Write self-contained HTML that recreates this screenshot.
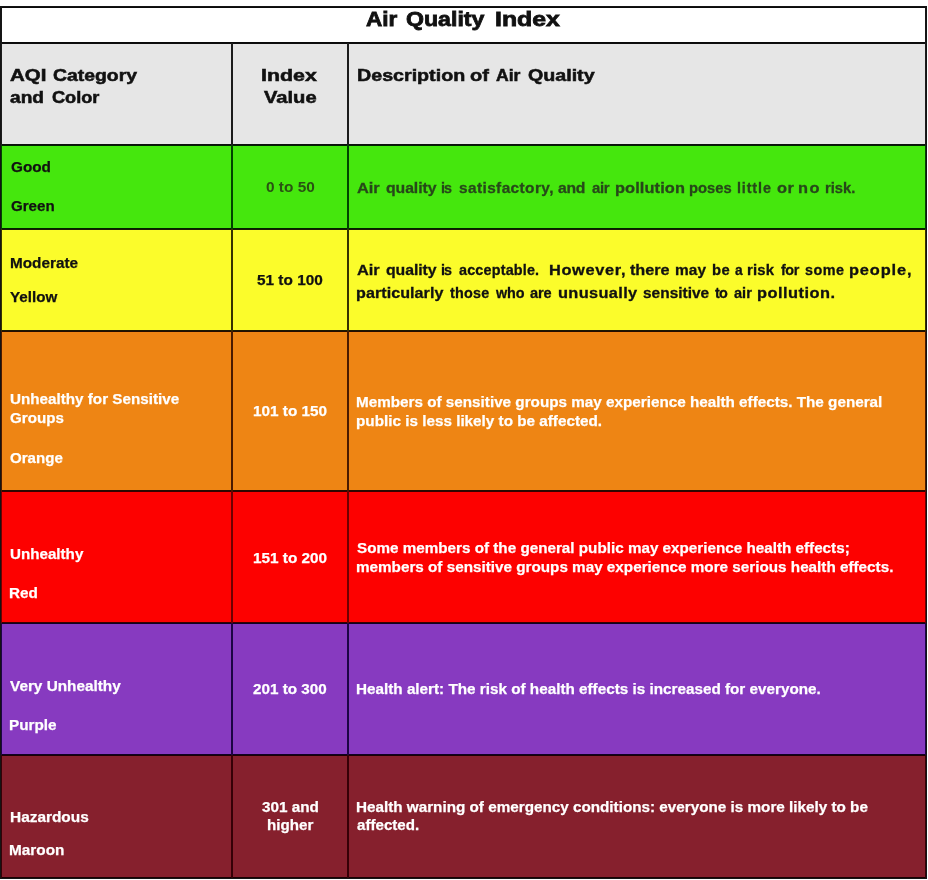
<!DOCTYPE html>
<html lang="en">
<head>
<meta charset="utf-8">
<title>Air Quality Index</title>
<style>
  html, body { margin: 0; padding: 0; background: #ffffff; }
  body { width: 928px; height: 880px; overflow: hidden; position: relative;
         font-family: "Liberation Sans", sans-serif; }
  #grid { position: absolute; left: 0; top: 6px; width: 927px; height: 873px; background: #141414; }
  .cell { position: absolute; overflow: hidden; will-change: transform; }
  .cell .t { position: absolute; white-space: nowrap; font-weight: bold; line-height: 1; transform-origin: 0 0; }
  #title { left:2px; top:8px; width:923px; height:34px; background:#ffffff; box-shadow: 0 1px 0 0 #0b0b0b, 0 -1px 0 0 #0b0b0b, 0 0 0 1px #161616; }
  #c1r0 { left:2px; top:44px; width:229px; height:100px; background:#e6e6e6; box-shadow: 0 1px 0 0 #0e0e0e, 0 -1px 0 0 #0e0e0e, 0 0 0 1px #1c1c1c; }
  #c2r0 { left:233px; top:44px; width:114px; height:100px; background:#e6e6e6; box-shadow: 0 1px 0 0 #0e0e0e, 0 -1px 0 0 #0e0e0e, 0 0 0 1px #1c1c1c; }
  #c3r0 { left:349px; top:44px; width:576px; height:100px; background:#e6e6e6; box-shadow: 0 1px 0 0 #0e0e0e, 0 -1px 0 0 #0e0e0e, 0 0 0 1px #1c1c1c; }
  #c1r1 { left:2px; top:146px; width:229px; height:82px; background:#45e70d; box-shadow: 0 1px 0 0 #002200, 0 -1px 0 0 #002200, 0 0 0 1px #004400; }
  #c2r1 { left:233px; top:146px; width:114px; height:82px; background:#45e70d; box-shadow: 0 1px 0 0 #002200, 0 -1px 0 0 #002200, 0 0 0 1px #004400; }
  #c3r1 { left:349px; top:146px; width:576px; height:82px; background:#45e70d; box-shadow: 0 1px 0 0 #002200, 0 -1px 0 0 #002200, 0 0 0 1px #004400; }
  #c1r2 { left:2px; top:230px; width:229px; height:100px; background:#fbfc2b; box-shadow: 0 1px 0 0 #1b1900, 0 -1px 0 0 #1b1900, 0 0 0 1px #363200; }
  #c2r2 { left:233px; top:230px; width:114px; height:100px; background:#fbfc2b; box-shadow: 0 1px 0 0 #1b1900, 0 -1px 0 0 #1b1900, 0 0 0 1px #363200; }
  #c3r2 { left:349px; top:230px; width:576px; height:100px; background:#fbfc2b; box-shadow: 0 1px 0 0 #1b1900, 0 -1px 0 0 #1b1900, 0 0 0 1px #363200; }
  #c1r3 { left:2px; top:332px; width:229px; height:158px; background:#ee8514; box-shadow: 0 1px 0 0 #250d00, 0 -1px 0 0 #250d00, 0 0 0 1px #4a1a00; }
  #c2r3 { left:233px; top:332px; width:114px; height:158px; background:#ee8514; box-shadow: 0 1px 0 0 #250d00, 0 -1px 0 0 #250d00, 0 0 0 1px #4a1a00; }
  #c3r3 { left:349px; top:332px; width:576px; height:158px; background:#ee8514; box-shadow: 0 1px 0 0 #250d00, 0 -1px 0 0 #250d00, 0 0 0 1px #4a1a00; }
  #c1r4 { left:2px; top:492px; width:229px; height:130px; background:#fd0100; box-shadow: 0 1px 0 0 #370000, 0 -1px 0 0 #370000, 0 0 0 1px #6e0000; }
  #c2r4 { left:233px; top:492px; width:114px; height:130px; background:#fd0100; box-shadow: 0 1px 0 0 #370000, 0 -1px 0 0 #370000, 0 0 0 1px #6e0000; }
  #c3r4 { left:349px; top:492px; width:576px; height:130px; background:#fd0100; box-shadow: 0 1px 0 0 #370000, 0 -1px 0 0 #370000, 0 0 0 1px #6e0000; }
  #c1r5 { left:2px; top:624px; width:229px; height:130px; background:#873ac0; box-shadow: 0 1px 0 0 #0e0222, 0 -1px 0 0 #0e0222, 0 0 0 1px #1c0545; }
  #c2r5 { left:233px; top:624px; width:114px; height:130px; background:#873ac0; box-shadow: 0 1px 0 0 #0e0222, 0 -1px 0 0 #0e0222, 0 0 0 1px #1c0545; }
  #c3r5 { left:349px; top:624px; width:576px; height:130px; background:#873ac0; box-shadow: 0 1px 0 0 #0e0222, 0 -1px 0 0 #0e0222, 0 0 0 1px #1c0545; }
  #c1r6 { left:2px; top:756px; width:229px; height:121px; background:#86202d; box-shadow: 0 1px 0 0 #1b0003, 0 -1px 0 0 #1b0003, 0 0 0 1px #360006; }
  #c2r6 { left:233px; top:756px; width:114px; height:121px; background:#86202d; box-shadow: 0 1px 0 0 #1b0003, 0 -1px 0 0 #1b0003, 0 0 0 1px #360006; }
  #c3r6 { left:349px; top:756px; width:576px; height:121px; background:#86202d; box-shadow: 0 1px 0 0 #1b0003, 0 -1px 0 0 #1b0003, 0 0 0 1px #360006; }
</style>
</head>
<body>
<div id="grid"></div>
  <div class="cell" id="title">
    <span class="t" id="t1" style="font-size:20.6px;color:#111111;left:363.75px;top:1px;transform:scaleX(1.0951);-webkit-text-stroke:0.8px #111111;">Air</span>
    <span class="t" id="t2" style="font-size:20.6px;color:#111111;left:403.86px;top:1px;transform:scaleX(1.1228);-webkit-text-stroke:0.8px #111111;">Quality</span>
    <span class="t" id="t3" style="font-size:20.6px;color:#111111;left:492.98px;top:1px;transform:scaleX(1.2047);-webkit-text-stroke:0.8px #111111;">Index</span>
  </div>
  <div class="cell" id="c1r0">
    <span class="t" id="h1a1" style="font-size:17.0px;color:#111111;left:7.93px;top:23px;transform:scaleX(1.2031);-webkit-text-stroke:0.55px #111111;">AQI</span>
    <span class="t" id="h1a2" style="font-size:17.0px;color:#111111;left:50.63px;top:23px;transform:scaleX(1.1402);-webkit-text-stroke:0.55px #111111;">Category</span>
    <span class="t" id="h1b1" style="font-size:17.0px;color:#111111;left:8.00px;top:45px;transform:scaleX(1.1244);-webkit-text-stroke:0.55px #111111;">and</span>
    <span class="t" id="h1b2" style="font-size:17.0px;color:#111111;left:49.91px;top:45px;transform:scaleX(1.0684);-webkit-text-stroke:0.55px #111111;">Color</span>
  </div>
  <div class="cell" id="c2r0">
    <span class="t" id="h2a" style="font-size:17.0px;color:#111111;left:28.19px;top:23px;transform:scaleX(1.2556);-webkit-text-stroke:0.55px #111111;">Index</span>
    <span class="t" id="h2b" style="font-size:17.0px;color:#111111;left:30.99px;top:45px;transform:scaleX(1.1847);-webkit-text-stroke:0.55px #111111;">Value</span>
  </div>
  <div class="cell" id="c3r0">
    <span class="t" id="h3a" style="font-size:17.0px;color:#111111;left:8.28px;top:23px;transform:scaleX(1.1565);-webkit-text-stroke:0.55px #111111;">Description</span>
    <span class="t" id="h3b" style="font-size:17.0px;color:#111111;left:121.25px;top:23px;transform:scaleX(1.1754);-webkit-text-stroke:0.55px #111111;">of</span>
    <span class="t" id="h3c" style="font-size:17.0px;color:#111111;left:146.51px;top:23px;transform:scaleX(1.0366);-webkit-text-stroke:0.55px #111111;">Air</span>
    <span class="t" id="h3d" style="font-size:17.0px;color:#111111;left:179.26px;top:23px;transform:scaleX(1.1556);-webkit-text-stroke:0.55px #111111;">Quality</span>
  </div>
  <div class="cell" id="c1r1">
    <span class="t" id="g1a" style="font-size:15.5px;color:#111111;left:8.57px;top:13px;transform:scaleX(0.9881);-webkit-text-stroke:0.25px #111111;">Good</span>
    <span class="t" id="g1b" style="font-size:15.5px;color:#111111;left:8.58px;top:52px;transform:scaleX(0.9742);-webkit-text-stroke:0.25px #111111;">Green</span>
  </div>
  <div class="cell" id="c2r1">
    <span class="t" id="g2" style="font-size:15.5px;color:#2a5213;left:32.96px;top:33px;transform:scaleX(0.9936);">0 to 50</span>
  </div>
  <div class="cell" id="c3r1">
    <span class="t" id="g3w0" style="font-size:15.3px;color:#27481a;left:8.47px;top:34px;transform:scaleX(1.0700);-webkit-text-stroke:0.3px #27481a;">Air</span>
    <span class="t" id="g3w1" style="font-size:15.3px;color:#27481a;left:37.08px;top:34px;transform:scaleX(1.0328);letter-spacing:-0.08px;-webkit-text-stroke:0.3px #27481a;">quality</span>
    <span class="t" id="g3w2" style="font-size:15.3px;color:#27481a;left:92.40px;top:34px;transform:scaleX(0.9400);letter-spacing:-1.10px;-webkit-text-stroke:0.3px #27481a;">is</span>
    <span class="t" id="g3w3" style="font-size:15.3px;color:#27481a;left:109.65px;top:34px;transform:scaleX(1.0080);letter-spacing:0.39px;-webkit-text-stroke:0.3px #27481a;">satisfactory,</span>
    <span class="t" id="g3w4" style="font-size:15.3px;color:#27481a;left:209.19px;top:34px;transform:scaleX(1.0285);letter-spacing:-0.26px;-webkit-text-stroke:0.3px #27481a;">and</span>
    <span class="t" id="g3w5" style="font-size:15.3px;color:#27481a;left:242.86px;top:34px;transform:scaleX(0.9778);letter-spacing:-0.43px;-webkit-text-stroke:0.3px #27481a;">air</span>
    <span class="t" id="g3w6" style="font-size:15.3px;color:#27481a;left:265.62px;top:34px;transform:scaleX(1.0700);letter-spacing:0.10px;-webkit-text-stroke:0.3px #27481a;">pollution</span>
    <span class="t" id="g3w7" style="font-size:15.3px;color:#27481a;left:340.40px;top:34px;transform:scaleX(0.9661);letter-spacing:-0.01px;-webkit-text-stroke:0.3px #27481a;">poses</span>
    <span class="t" id="g3w8" style="font-size:15.3px;color:#27481a;left:387.88px;top:34px;transform:scaleX(0.9400);letter-spacing:0.92px;-webkit-text-stroke:0.3px #27481a;">little</span>
    <span class="t" id="g3w9" style="font-size:15.3px;color:#27481a;left:427.64px;top:34px;transform:scaleX(1.0700);letter-spacing:0.56px;-webkit-text-stroke:0.3px #27481a;">or</span>
    <span class="t" id="g3w10" style="font-size:15.3px;color:#27481a;left:449.33px;top:34px;transform:scaleX(1.0700);letter-spacing:1.32px;-webkit-text-stroke:0.3px #27481a;">no</span>
    <span class="t" id="g3w11" style="font-size:15.3px;color:#27481a;left:476.09px;top:34px;transform:scaleX(0.9640);letter-spacing:-0.02px;-webkit-text-stroke:0.3px #27481a;">risk.</span>
  </div>
  <div class="cell" id="c1r2">
    <span class="t" id="y1a" style="font-size:15.5px;color:#111111;left:7.65px;top:25px;transform:scaleX(0.9876);-webkit-text-stroke:0.25px #111111;">Moderate</span>
    <span class="t" id="y1b" style="font-size:15.5px;color:#111111;left:8.31px;top:59px;transform:scaleX(0.9793);-webkit-text-stroke:0.25px #111111;">Yellow</span>
  </div>
  <div class="cell" id="c2r2">
    <span class="t" id="y2" style="font-size:15.5px;color:#111111;left:23.86px;top:42px;transform:scaleX(0.9915);-webkit-text-stroke:0.25px #111111;">51 to 100</span>
  </div>
  <div class="cell" id="c3r2">
    <span class="t" id="y3aw0" style="font-size:15.3px;color:#111111;left:8.43px;top:32px;transform:scaleX(1.0700);-webkit-text-stroke:0.3px #111111;">Air</span>
    <span class="t" id="y3aw1" style="font-size:15.3px;color:#111111;left:37.02px;top:32px;transform:scaleX(1.0330);letter-spacing:-0.06px;-webkit-text-stroke:0.3px #111111;">quality</span>
    <span class="t" id="y3aw2" style="font-size:15.3px;color:#111111;left:92.40px;top:32px;transform:scaleX(0.9400);letter-spacing:-1.03px;-webkit-text-stroke:0.3px #111111;">is</span>
    <span class="t" id="y3aw3" style="font-size:15.3px;color:#111111;left:109.84px;top:32px;transform:scaleX(0.9400);letter-spacing:0.19px;-webkit-text-stroke:0.3px #111111;">acceptable.</span>
    <span class="t" id="y3aw4" style="font-size:15.3px;color:#111111;left:199.63px;top:32px;transform:scaleX(1.0700);letter-spacing:0.61px;-webkit-text-stroke:0.3px #111111;">However,</span>
    <span class="t" id="y3aw5" style="font-size:15.3px;color:#111111;left:281.29px;top:32px;transform:scaleX(1.0621);letter-spacing:-0.05px;-webkit-text-stroke:0.3px #111111;">there</span>
    <span class="t" id="y3aw6" style="font-size:15.3px;color:#111111;left:325.99px;top:32px;transform:scaleX(1.0080);letter-spacing:0.08px;-webkit-text-stroke:0.3px #111111;">may</span>
    <span class="t" id="y3aw7" style="font-size:15.3px;color:#111111;left:362.69px;top:32px;transform:scaleX(0.9652);letter-spacing:0.54px;-webkit-text-stroke:0.3px #111111;">be</span>
    <span class="t" id="y3aw8" style="font-size:15.3px;color:#111111;left:385.92px;top:32px;transform:scaleX(0.9000);-webkit-text-stroke:0.3px #111111;">a</span>
    <span class="t" id="y3aw9" style="font-size:15.3px;color:#111111;left:398.37px;top:32px;transform:scaleX(0.9732);letter-spacing:0.21px;-webkit-text-stroke:0.3px #111111;">risk</span>
    <span class="t" id="y3aw10" style="font-size:15.3px;color:#111111;left:432.42px;top:32px;transform:scaleX(0.9400);letter-spacing:-0.48px;-webkit-text-stroke:0.3px #111111;">for</span>
    <span class="t" id="y3aw11" style="font-size:15.3px;color:#111111;left:456.39px;top:32px;transform:scaleX(0.9400);letter-spacing:0.55px;-webkit-text-stroke:0.3px #111111;">some</span>
    <span class="t" id="y3aw12" style="font-size:15.3px;color:#111111;left:500.32px;top:32px;transform:scaleX(1.0700);letter-spacing:0.80px;-webkit-text-stroke:0.3px #111111;">people,</span>
    <span class="t" id="y3bw0" style="font-size:15.3px;color:#111111;left:7.33px;top:55px;transform:scaleX(1.0531);letter-spacing:0.05px;-webkit-text-stroke:0.3px #111111;">particularly</span>
    <span class="t" id="y3bw1" style="font-size:15.3px;color:#111111;left:100.98px;top:55px;transform:scaleX(0.9400);letter-spacing:0.22px;-webkit-text-stroke:0.3px #111111;">those</span>
    <span class="t" id="y3bw2" style="font-size:15.3px;color:#111111;left:146.60px;top:55px;transform:scaleX(0.9400);letter-spacing:-0.09px;-webkit-text-stroke:0.3px #111111;">who</span>
    <span class="t" id="y3bw3" style="font-size:15.3px;color:#111111;left:181.20px;top:55px;transform:scaleX(0.9528);letter-spacing:-0.09px;-webkit-text-stroke:0.3px #111111;">are</span>
    <span class="t" id="y3bw4" style="font-size:15.3px;color:#111111;left:209.22px;top:55px;transform:scaleX(1.0700);letter-spacing:0.33px;-webkit-text-stroke:0.3px #111111;">unusually</span>
    <span class="t" id="y3bw5" style="font-size:15.3px;color:#111111;left:294.24px;top:55px;transform:scaleX(1.0084);letter-spacing:0.02px;-webkit-text-stroke:0.3px #111111;">sensitive</span>
    <span class="t" id="y3bw6" style="font-size:15.3px;color:#111111;left:366.28px;top:55px;transform:scaleX(0.9400);letter-spacing:-0.89px;-webkit-text-stroke:0.3px #111111;">to</span>
    <span class="t" id="y3bw7" style="font-size:15.3px;color:#111111;left:385.20px;top:55px;transform:scaleX(0.9506);letter-spacing:0.01px;-webkit-text-stroke:0.3px #111111;">air</span>
    <span class="t" id="y3bw8" style="font-size:15.3px;color:#111111;left:408.32px;top:55px;transform:scaleX(1.0700);letter-spacing:0.45px;-webkit-text-stroke:0.3px #111111;">pollution.</span>
  </div>
  <div class="cell" id="c1r3">
    <span class="t" id="o1a" style="font-size:15.5px;color:#ffffff;left:7.58px;top:59px;transform:scaleX(0.9819);-webkit-text-stroke:0.25px #ffffff;">Unhealthy for Sensitive</span>
    <span class="t" id="o1b" style="font-size:15.5px;color:#ffffff;left:7.77px;top:78px;transform:scaleX(0.9765);-webkit-text-stroke:0.25px #ffffff;">Groups</span>
    <span class="t" id="o1c" style="font-size:15.5px;color:#ffffff;left:8.17px;top:118px;transform:scaleX(0.9730);-webkit-text-stroke:0.25px #ffffff;">Orange</span>
  </div>
  <div class="cell" id="c2r3">
    <span class="t" id="o2" style="font-size:15.5px;color:#ffffff;left:19.96px;top:71px;transform:scaleX(0.9883);-webkit-text-stroke:0.25px #ffffff;">101 to 150</span>
  </div>
  <div class="cell" id="c3r3">
    <span class="t" id="o3a" style="font-size:15.5px;color:#ffffff;left:7.09px;top:62px;transform:scaleX(0.9839);-webkit-text-stroke:0.25px #ffffff;">Members of sensitive groups may experience health effects. The general</span>
    <span class="t" id="o3b" style="font-size:15.5px;color:#ffffff;left:7.08px;top:81px;transform:scaleX(0.9851);-webkit-text-stroke:0.25px #ffffff;">public is less likely to be affected.</span>
  </div>
  <div class="cell" id="c1r4">
    <span class="t" id="r1a" style="font-size:15.5px;color:#ffffff;left:7.86px;top:54px;transform:scaleX(0.9786);-webkit-text-stroke:0.25px #ffffff;">Unhealthy</span>
    <span class="t" id="r1b" style="font-size:15.5px;color:#ffffff;left:7.12px;top:93px;transform:scaleX(0.9861);-webkit-text-stroke:0.25px #ffffff;">Red</span>
  </div>
  <div class="cell" id="c2r4">
    <span class="t" id="r2" style="font-size:15.5px;color:#ffffff;left:19.96px;top:58px;transform:scaleX(0.9883);-webkit-text-stroke:0.25px #ffffff;">151 to 200</span>
  </div>
  <div class="cell" id="c3r4">
    <span class="t" id="r3a" style="font-size:15.5px;color:#ffffff;left:7.95px;top:48px;transform:scaleX(0.9828);-webkit-text-stroke:0.25px #ffffff;">Some members of the general public may experience health effects;</span>
    <span class="t" id="r3b" style="font-size:15.5px;color:#ffffff;left:7.02px;top:67px;transform:scaleX(0.9839);-webkit-text-stroke:0.25px #ffffff;">members of sensitive groups may experience more serious health effects.</span>
  </div>
  <div class="cell" id="c1r5">
    <span class="t" id="p1a" style="font-size:15.5px;color:#ffffff;left:7.54px;top:54px;transform:scaleX(0.9888);-webkit-text-stroke:0.25px #ffffff;">Very Unhealthy</span>
    <span class="t" id="p1b" style="font-size:15.5px;color:#ffffff;left:7.41px;top:93px;transform:scaleX(0.9870);-webkit-text-stroke:0.25px #ffffff;">Purple</span>
  </div>
  <div class="cell" id="c2r5">
    <span class="t" id="p2" style="font-size:15.5px;color:#ffffff;left:20.19px;top:57px;transform:scaleX(0.9827);-webkit-text-stroke:0.25px #ffffff;">201 to 300</span>
  </div>
  <div class="cell" id="c3r5">
    <span class="t" id="p3" style="font-size:15.5px;color:#ffffff;left:7.40px;top:57px;transform:scaleX(0.9846);-webkit-text-stroke:0.25px #ffffff;">Health alert: The risk of health effects is increased for everyone.</span>
  </div>
  <div class="cell" id="c1r6">
    <span class="t" id="m1a" style="font-size:15.5px;color:#ffffff;left:7.50px;top:53px;transform:scaleX(0.9939);-webkit-text-stroke:0.25px #ffffff;">Hazardous</span>
    <span class="t" id="m1b" style="font-size:15.5px;color:#ffffff;left:7.40px;top:86px;transform:scaleX(0.9907);-webkit-text-stroke:0.25px #ffffff;">Maroon</span>
  </div>
  <div class="cell" id="c2r6">
    <span class="t" id="m2a" style="font-size:15.5px;color:#ffffff;left:29.08px;top:43px;transform:scaleX(0.9863);-webkit-text-stroke:0.25px #ffffff;">301 and</span>
    <span class="t" id="m2b" style="font-size:15.5px;color:#ffffff;left:33.69px;top:61px;transform:scaleX(0.9769);-webkit-text-stroke:0.25px #ffffff;">higher</span>
  </div>
  <div class="cell" id="c3r6">
    <span class="t" id="m3a" style="font-size:15.5px;color:#ffffff;left:7.40px;top:43px;transform:scaleX(0.9839);-webkit-text-stroke:0.25px #ffffff;">Health warning of emergency conditions: everyone is more likely to be</span>
    <span class="t" id="m3b" style="font-size:15.5px;color:#ffffff;left:8.33px;top:61px;transform:scaleX(0.9754);-webkit-text-stroke:0.25px #ffffff;">affected.</span>
  </div>
</body>
</html>
